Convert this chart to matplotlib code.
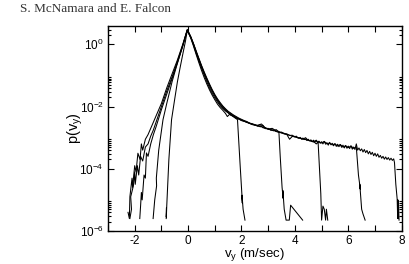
import numpy as np
import matplotlib
matplotlib.use("Agg")
import matplotlib.pyplot as plt
from matplotlib.ticker import MultipleLocator, FixedLocator, NullFormatter, FixedFormatter

# ---- data: velocity v_y (m/s) and log10 p(v_y) ----
v_a = [-0.82, -0.81, -0.815, -0.80, -0.72, -0.62, -0.5, -0.4, -0.3, -0.2, -0.1, -0.03,
       0.1, 0.2, 0.3, 0.4, 0.5, 0.6, 0.7, 0.8, 0.9, 1.0, 1.1, 1.2, 1.3, 1.4, 1.47, 1.55,
       1.65, 1.75, 1.85, 1.95, 2.02, 2.03, 2.02, 2.06, 2.13]
logp_a = [-5.6, -5.25, -5.55, -5.2, -3.7, -2.42, -1.75, -1.2, -0.75, -0.32, 0.1, 0.45,
          0.2, -0.05, -0.32, -0.58, -0.83, -1.06, -1.27, -1.46, -1.63, -1.78, -1.92, -2.03,
          -2.12, -2.22, -2.32, -2.25, -2.3, -2.36, -2.42, -3.9, -4.9, -5.1, -4.85, -5.3, -5.65]

v_b = [-1.31, -1.25, -1.18, -1.19, -1.1, -0.94, -0.8, -0.6, -0.4, -0.2, -0.03,
       0.1, 0.2, 0.3, 0.4, 0.5, 0.6, 0.7, 0.8, 0.9, 1.0, 1.1, 1.2, 1.3, 1.4, 1.5, 1.6,
       1.7, 1.8, 1.9, 2.0, 2.2, 2.4, 2.6, 2.75, 2.85, 3.0, 3.15, 3.3, 3.4, 3.45, 3.52,
       3.56, 3.55, 3.6, 3.67, 3.79, 3.84, 4.29]
logp_b = [-5.6, -5.0, -4.55, -4.3, -3.4, -2.42, -1.9, -1.2, -0.6, -0.05, 0.45,
          0.22, -0.02, -0.28, -0.52, -0.76, -0.98, -1.2, -1.4, -1.57, -1.72, -1.85, -1.97,
          -2.06, -2.14, -2.2, -2.27, -2.31, -2.37, -2.4, -2.45, -2.5, -2.58, -2.6, -2.56,
          -2.66, -2.72, -2.7, -2.78, -2.8, -3.6, -4.6, -4.95, -4.7, -5.3, -5.65, -5.65,
          -5.17, -5.65]

v_c = [-2.18, -2.12, -2.15, -2.05, -2.0, -1.98, -1.9, -1.85, -1.78, -1.7, -1.6, -1.5,
       -1.4, -1.3, -1.2, -1.0, -0.8, -0.6, -0.4, -0.2, -0.03,
       0.1, 0.2, 0.3, 0.4, 0.5, 0.6, 0.7, 0.8, 0.9, 1.0, 1.1, 1.2, 1.3, 1.4, 1.5, 1.6,
       1.7, 1.8, 1.9, 2.0, 2.1, 2.2, 2.3, 2.4, 2.5, 2.6, 2.7, 2.8, 2.9, 3.0, 3.1, 3.2,
       3.3, 3.4, 3.5, 3.6, 3.7, 3.8, 3.9, 4.0, 4.1, 4.2, 4.3, 4.4, 4.5, 4.6, 4.7, 4.8,
       4.87, 4.97, 5.0, 5.05, 5.1, 5.15, 5.18, 5.23]
logp_c = [-5.6, -5.3, -4.9, -4.55, -4.1, -4.5, -3.9, -4.2, -3.6, -3.75, -3.3, -3.2,
          -2.95, -2.75, -2.5, -2.0, -1.5, -1.05, -0.55, -0.02, 0.46,
          0.23, 0.01, -0.24, -0.48, -0.71, -0.93, -1.13, -1.33, -1.5, -1.66, -1.8, -1.93,
          -2.04, -2.12, -2.2, -2.26, -2.31, -2.36, -2.4, -2.44, -2.47, -2.51, -2.53, -2.57,
          -2.59, -2.63, -2.58, -2.68, -2.69, -2.73, -2.74, -2.78, -2.74, -2.82, -2.85,
          -2.86, -2.9, -3.05, -2.96, -2.97, -3.0, -3.02, -3.05, -3.0, -3.09, -3.1, -3.14,
          -3.08, -3.16, -4.8, -5.65, -5.2, -5.3, -5.65, -5.3, -5.65]

v_d = [-1.81, -1.78, -1.75, -1.72, -1.65, -1.6, -1.56, -1.5, -1.4, -1.3, -1.2, -1.0,
       -0.8, -0.6, -0.4, -0.2, -0.03,
       0.1, 0.2, 0.3, 0.4, 0.5, 0.6, 0.7, 0.8, 0.9, 1.0, 1.1, 1.2, 1.3, 1.4, 1.5, 1.6,
       1.7, 1.8, 1.9, 2.0, 2.1, 2.2, 2.3, 2.4, 2.5, 2.6, 2.7, 2.8, 2.9, 3.0, 3.1, 3.2,
       3.3, 3.4, 3.5, 3.6, 3.7, 3.8, 3.9, 4.0, 4.1, 4.2, 4.3, 4.4, 4.5, 4.6, 4.7, 4.8,
       4.9, 5.0, 5.1, 5.2, 5.3, 5.4, 5.5, 5.6, 5.7, 5.8, 5.9, 6.0, 6.1, 6.2, 6.3,
       6.38, 6.45, 6.43, 6.5, 6.55, 6.63]
logp_d = [-5.6, -5.2, -4.76, -5.0, -4.2, -4.3, -3.49, -3.6, -3.2, -2.9, -2.65, -2.1,
          -1.6, -1.1, -0.6, -0.05, 0.47,
          0.24, 0.02, -0.23, -0.46, -0.69, -0.91, -1.11, -1.3, -1.48, -1.64, -1.78, -1.9,
          -2.0, -2.09, -2.17, -2.23, -2.29, -2.34, -2.39, -2.43, -2.46, -2.5, -2.54, -2.56,
          -2.6, -2.61, -2.65, -2.6, -2.7, -2.72, -2.75, -2.76, -2.8, -2.81, -2.84, -2.88,
          -2.89, -2.92, -2.95, -2.96, -3.0, -3.01, -3.04, -3.06, -3.08, -3.11, -3.12, -3.2,
          -3.13, -3.17, -3.12, -3.2, -3.17, -3.23, -3.2, -3.27, -3.22, -3.3, -3.26, -3.32,
          -3.27, -3.34, -3.3, -4.2, -4.65, -4.5, -5.3, -5.45, -5.65]

v_e = [-2.25, -2.2, -2.18, -2.1, -2.08, -2.0, -1.95, -1.88, -1.8, -1.75, -1.7, -1.6,
       -1.5, -1.4, -1.2, -1.0, -0.8, -0.6, -0.4, -0.2, -0.03,
       0.1, 0.2, 0.3, 0.4, 0.5, 0.6, 0.7, 0.8, 0.9, 1.0, 1.1, 1.2, 1.3, 1.4, 1.5, 1.6,
       1.7, 1.8, 1.9, 2.0, 2.1, 2.2, 2.3, 2.4, 2.5, 2.6, 2.7, 2.8, 2.9, 3.0, 3.1, 3.2,
       3.3, 3.4, 3.5, 3.6, 3.7, 3.8, 3.9,
       4.0, 4.05, 4.1, 4.15, 4.2, 4.25, 4.3, 4.35, 4.4, 4.45, 4.5, 4.55, 4.6, 4.65, 4.7,
       4.75, 4.8, 4.85, 4.9, 4.95, 5.0, 5.05, 5.1, 5.15, 5.2, 5.25, 5.3, 5.35, 5.4, 5.45,
       5.5, 5.55, 5.6, 5.65, 5.7, 5.75, 5.8, 5.85, 5.9, 5.95, 6.0, 6.05, 6.1, 6.15, 6.2,
       6.25, 6.3, 6.35, 6.4, 6.45, 6.5, 6.55, 6.6, 6.65, 6.7, 6.75, 6.8, 6.85, 6.9, 6.95,
       7.0, 7.05, 7.1, 7.15, 7.2, 7.25, 7.3, 7.35, 7.4, 7.45, 7.5, 7.55, 7.6, 7.65, 7.7,
       7.73, 7.78, 7.83, 7.85, 7.86, 7.87, 7.88, 7.9]
logp_e = [-5.4, -5.6, -4.9, -4.3, -4.6, -3.9, -4.1, -3.5, -3.7, -3.2, -3.4, -3.05,
          -2.9, -2.7, -2.3, -1.9, -1.4, -0.95, -0.5, 0.0, 0.48,
          0.25, 0.03, -0.21, -0.44, -0.67, -0.88, -1.08, -1.27, -1.45, -1.61, -1.75, -1.87,
          -1.98, -2.07, -2.15, -2.21, -2.27, -2.32, -2.37, -2.41, -2.45, -2.48, -2.53,
          -2.55, -2.58, -2.62, -2.64, -2.66, -2.71, -2.7, -2.76, -2.75, -2.8, -2.83, -2.82,
          -2.87, -2.88, -2.93, -2.92,
          -2.98, -2.95, -2.99, -3.02, -2.99, -3.05, -3.01, -3.06, -3.04, -3.09, -3.05,
          -3.1, -3.07, -3.13, -3.08, -3.14, -3.1, -3.16, -3.11, -3.18, -3.13, -3.2, -3.12,
          -3.21, -3.16, -3.24, -3.15, -3.23, -3.18, -3.26, -3.19, -3.28, -3.21, -3.29,
          -3.22, -3.31, -3.24, -3.33, -3.25, -3.34, -3.27, -3.35, -3.26, -3.37, -3.3,
          -3.38, -3.2, -3.4, -3.33, -3.42, -3.36, -3.46, -3.38, -3.48, -3.41, -3.52,
          -3.44, -3.54, -3.47, -3.58, -3.5, -3.6, -3.52, -3.63, -3.57, -3.66, -3.6, -3.69,
          -3.62, -3.7, -3.64, -3.72, -3.66, -3.73, -3.68,
          -3.8, -4.5, -4.97, -5.6, -5.0, -5.6, -5.05, -5.65]

curves = [(v_a, logp_a), (v_b, logp_b), (v_c, logp_c), (v_d, logp_d), (v_e, logp_e)]

x_ticks = [-2, 0, 2, 4, 6, 8]
y_major = [1e-6, 1e-4, 1e-2, 1e0]
y_labels = [r"10$^{-6}$", r"10$^{-4}$", r"10$^{-2}$", r"10$^{0}$"]

# ---- figure ----
plt.rcParams['font.family'] = ['Liberation Sans', 'DejaVu Sans']
plt.rcParams['mathtext.fontset'] = 'custom'
plt.rcParams['mathtext.rm'] = 'Liberation Sans'
plt.rcParams['mathtext.it'] = 'Liberation Sans:italic'
plt.rcParams['axes.unicode_minus'] = False

fig = plt.figure(figsize=(4.10, 2.64), dpi=100)
ax = fig.add_axes([108/410, 33/264, (401.7-108)/410, (231-26)/264])

for v, lp in curves:
    ax.plot(v, 10.0 ** np.array(lp), color='black', lw=0.75)

ax.set_yscale('log')
ax.set_xlim(-3, 8)
ax.set_ylim(1e-6, 3.9)

ax.xaxis.set_major_locator(FixedLocator(x_ticks))
ax.xaxis.set_minor_locator(MultipleLocator(1))
ax.yaxis.set_major_locator(FixedLocator(y_major))
ax.yaxis.set_major_formatter(FixedFormatter(y_labels))
minor_y = [k * 10.0 ** d for d in (-6, -4, -2, 0) for k in range(2, 10)]
ax.yaxis.set_minor_locator(FixedLocator(minor_y))
ax.yaxis.set_minor_formatter(NullFormatter())

ax.tick_params(which='both', direction='in', top=True, right=True, labelsize=8.5, width=0.8, pad=3)
ax.tick_params(which='major', length=4)
ax.tick_params(axis='x', which='minor', length=4)
ax.tick_params(axis='y', which='minor', length=2.5)
for s in ax.spines.values():
    s.set_linewidth(1.0)

ax.set_xlabel(r"v$_{\rm y}$ (m/sec)", fontsize=9.5)
ax.set_ylabel(r"p(v$_{\rm y}$)", fontsize=10.5)
ax.xaxis.set_label_coords(0.5, -0.074)
ax.yaxis.set_label_coords(-0.078, 0.5)

fig.text(20/410, 1 - 9/264, "S. McNamara and E. Falcon", fontsize=9.5,
         family=['Liberation Serif', 'DejaVu Serif'], color='#333333', va='center', ha='left')

fig.savefig("out.png", dpi=100)
